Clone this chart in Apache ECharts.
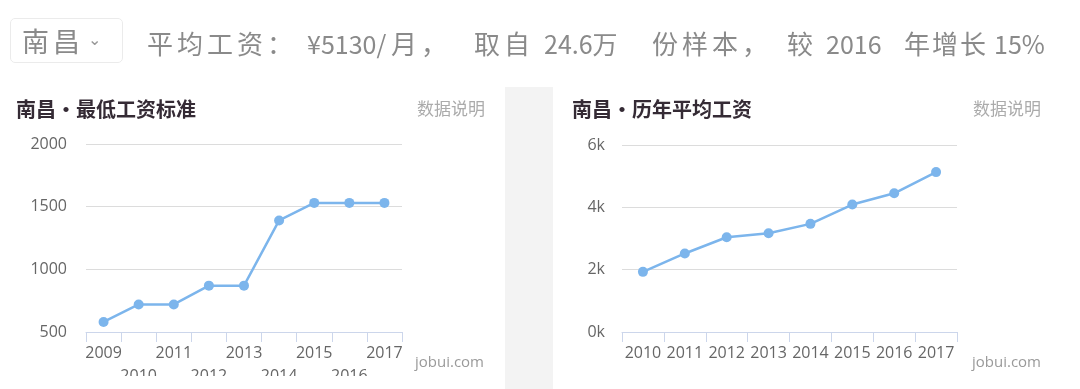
<!DOCTYPE html>
<html>
<head>
<meta charset="utf-8">
<script src="https://cdn.jsdelivr.net/npm/echarts@6/dist/echarts.min.js"></script>
<style>
html,body{margin:0;padding:0;background:#fff;}
#wrap{position:relative;width:1080px;height:389px;overflow:hidden;}
#chart{position:absolute;left:0;top:0;width:1080px;height:389px;}
#city{position:absolute;left:10px;top:18px;width:111px;height:43px;border:1px solid #ebebeb;border-radius:5px;box-sizing:content-box;
  font-family:"Noto Sans CJK SC",sans-serif;font-size:27px;color:#8a8a8a;line-height:43px;}
#city span.t{position:absolute;left:11px;top:0;letter-spacing:4px;}
#city span.c{position:absolute;left:77px;top:-2px;font-size:16px;color:#999;}
#head span{position:absolute;top:18px;height:50px;line-height:50px;font-family:"Noto Sans CJK SC",sans-serif;
  font-size:26px;color:#8a8a8a;white-space:nowrap;letter-spacing:4px;}
#head span.n{letter-spacing:0;font-size:25px;}
</style>
</head>
<body>
<div id="wrap">
  <div id="chart"></div>
  <div id="city"><span class="t">南昌</span><span class="c">&#8964;</span></div>
  <div id="head">
    <span style="left:147px">平均工资：</span>
    <span class="n" style="left:307px">¥5130/</span>
    <span style="left:391px">月，</span>
    <span style="left:474px">取自</span>
    <span class="n" style="left:544px">24.6万</span>
    <span style="left:652px">份样本，</span>
    <span style="left:787px">较</span>
    <span class="n" style="left:826px">2016</span>
    <span style="left:904px;letter-spacing:2px">年增长</span>
    <span class="n" style="left:994px">15%</span>
  </div>
</div>
<script>
// ---- data ----
const minWageYears = ['2009','2010','2011','2012','2013','2014','2015','2016','2017'];
const minWageValues = [580, 720, 720, 870, 870, 1390, 1530, 1530, 1530];
const avgWageYears = ['2010','2011','2012','2013','2014','2015','2016','2017'];
const avgWageValues = [1930, 2520, 3040, 3170, 3470, 4090, 4450, 5130];
const minWageTicks = [500, 1000, 1500, 2000];
const avgWageTicks = ['0k', '2k', '4k', '6k'];
const leftTitle = '南昌·最低工资标准';
const rightTitle = '南昌·历年平均工资';
const noteText = '数据说明';
const brandText = 'jobui.com';

const chart = echarts.init(document.getElementById('chart'), null, {renderer:'canvas'});
const lineColor = '#7cb5ec';
const labelFont = {color:'#666666', fontSize:16, fontFamily:'"Open Sans", sans-serif'};

function xAxisCfg(data, idx, stagger){
  return {
    type:'category', gridIndex:idx, data:data, boundaryGap:true,
    axisLine:{show:true, lineStyle:{color:'#ccd6eb', width:1}},
    axisTick:{show:true, length:10, lineStyle:{color:'#ccd6eb'}},
    axisLabel:Object.assign({interval:0, margin:10, lineHeight:23,
      formatter:function(v, i){ return (stagger && i % 2 === 1) ? '\n' + v : v; }}, labelFont),
    splitLine:{show:false}
  };
}

chart.setOption({
  animation:false,
  grid:[
    {left:86, top:144, width:316, height:188},
    {left:622, top:145, width:335, height:187}
  ],
  xAxis:[ xAxisCfg(minWageYears, 0, true), xAxisCfg(avgWageYears, 1, false) ],
  yAxis:[
    {type:'value', gridIndex:0, min:minWageTicks[0], max:minWageTicks[minWageTicks.length-1], interval:500,
     axisLine:{show:false}, axisTick:{show:false},
     axisLabel:Object.assign({margin:19, formatter:function(v){ return String(v); }}, labelFont),
     splitLine:{lineStyle:{color:'#dcdcdc', width:1}}},
    {type:'value', gridIndex:1, min:0, max:6000, interval:2000,
     axisLine:{show:false}, axisTick:{show:false},
     axisLabel:Object.assign({margin:17, formatter:function(v){ return avgWageTicks[v/2000]; }}, labelFont),
     splitLine:{lineStyle:{color:'#dcdcdc', width:1}}}
  ],
  series:[
    {type:'line', xAxisIndex:0, yAxisIndex:0, data:minWageValues, symbol:'circle', symbolSize:10,
     lineStyle:{color:lineColor, width:2.5}, itemStyle:{color:lineColor}},
    {type:'line', xAxisIndex:1, yAxisIndex:1, data:avgWageValues, symbol:'circle', symbolSize:10,
     lineStyle:{color:lineColor, width:2.5}, itemStyle:{color:lineColor}}
  ],
  graphic:[
    {type:'rect', z:-10, shape:{x:505, y:87, width:48, height:302}, style:{fill:'#f3f3f3'}},
    {type:'text', left:16, top:99, style:{text:leftTitle, fill:'#352b35', font:'bold 20px "Noto Sans CJK SC", sans-serif'}},
    {type:'text', left:572, top:99, style:{text:rightTitle, fill:'#352b35', font:'bold 20px "Noto Sans CJK SC", sans-serif'}},
    {type:'text', left:417, top:100, style:{text:noteText, fill:'#ababab', font:'17px "Noto Sans CJK SC", sans-serif'}},
    {type:'text', left:973, top:100, style:{text:noteText, fill:'#ababab', font:'17px "Noto Sans CJK SC", sans-serif'}},
    {type:'text', left:415, top:355, style:{text:brandText, fill:'#9a9a9a', font:'15px "Open Sans", sans-serif'}},
    {type:'text', left:972, top:355, style:{text:brandText, fill:'#9a9a9a', font:'15px "Open Sans", sans-serif'}},
    {type:'rect', z:100, shape:{x:0, y:376, width:505, height:13}, style:{fill:'#ffffff'}}
  ]
});
</script>
</body>
</html>
